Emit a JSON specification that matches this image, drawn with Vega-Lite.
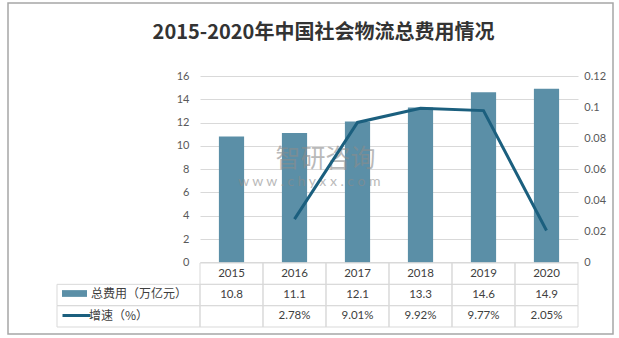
{
  "$schema": "https://vega.github.io/schema/vega-lite/v6.json",
  "width": 605,
  "height": 331,
  "autosize": {"type": "none"},
  "padding": {"left": 8, "top": 3, "right": 6, "bottom": 4},
  "background": "white",
  "title": {
    "text": "2015-2020年中国社会物流总费用情况",
    "font": "Noto Sans CJK SC",
    "fontSize": 20,
    "fontWeight": "bold",
    "color": "#333333",
    "anchor": "middle",
    "offset": -40,
    "dx": 13
  },
  "config": {
    "view": {"stroke": "#a6a6a6", "strokeWidth": 1.5},
    "font": "Lato"
  },
  "data": {
    "values": [
      {"年份": "2015", "总费用（万亿元）": 10.8, "增速": null, "增速（%）": ""},
      {"年份": "2016", "总费用（万亿元）": 11.1, "增速": 0.0278, "增速（%）": "2.78%"},
      {"年份": "2017", "总费用（万亿元）": 12.1, "增速": 0.0901, "增速（%）": "9.01%"},
      {"年份": "2018", "总费用（万亿元）": 13.3, "增速": 0.0992, "增速（%）": "9.92%"},
      {"年份": "2019", "总费用（万亿元）": 14.6, "增速": 0.0977, "增速（%）": "9.77%"},
      {"年份": "2020", "总费用（万亿元）": 14.9, "增速": 0.0205, "增速（%）": "2.05%"}
    ]
  },
  "resolve": {"scale": {"x": "independent", "y": "independent"}},
  "layer": [
    {
      "resolve": {"scale": {"y": "independent"}},
      "encoding": {
        "x": {
          "field": "年份",
          "type": "ordinal",
          "scale": {"range": [192, 570], "paddingInner": 0.6, "paddingOuter": 0.3},
          "axis": null
        }
      },
      "layer": [
        {
          "mark": {"type": "bar"},
          "encoding": {
            "y": {
              "field": "总费用（万亿元）",
              "type": "quantitative",
              "scale": {"domain": [0, 16], "range": [259.3, 73], "nice": false, "zero": true},
              "axis": {
                "orient": "left",
                "offset": -192,
                "values": [0, 2, 4, 6, 8, 10, 12, 14, 16],
                "domain": false,
                "ticks": false,
                "labelPadding": 11,
                "labelFont": "Lato",
                "labelFontSize": 11,
                "labelColor": "#595959",
                "grid": true,
                "gridColor": "#d9d9d9",
                "gridWidth": 1,
                "title": null
              }
            },
            "fill": {
              "datum": "总费用（万亿元）",
              "scale": {"range": ["#5b8fa7"]},
              "legend": {
                "orient": "none",
                "legendX": 54,
                "legendY": 278,
                "title": null,
                "padding": 0,
                "symbolType": "M-1,-0.27H1V0.27H-1Z",
                "symbolSize": 625,
                "symbolStrokeWidth": 0,
                "labelOffset": 4,
                "labelFont": "Noto Sans CJK SC",
                "labelFontSize": 12,
                "labelColor": "#404040"
              }
            }
          }
        },
        {
          "data": {"values": [{"水印": "智研咨询"}]},
          "mark": {"type": "text", "font": "Noto Sans CJK SC", "fontSize": 25, "color": "#8c8c8c", "opacity": 0.6, "dx": -32, "baseline": "middle"},
          "encoding": {
            "x": {"datum": "2017", "type": "ordinal"},
            "y": {"datum": 8.9, "type": "quantitative", "scale": {"domain": [0, 16], "range": [259.3, 73]}, "axis": null},
            "text": {"field": "水印"}
          }
        },
        {
          "data": {"values": [{"水印": "w w w . c h y x x . c o m"}]},
          "mark": {"type": "text", "font": "Lato", "fontSize": 14, "color": "#8c8c8c", "opacity": 0.6, "dx": -48, "baseline": "middle"},
          "encoding": {
            "x": {"datum": "2017", "type": "ordinal"},
            "y": {"datum": 6.9, "type": "quantitative", "scale": {"domain": [0, 16], "range": [259.3, 73]}, "axis": null},
            "text": {"field": "水印"}
          }
        },
        {
          "mark": {"type": "line", "strokeWidth": 3},
          "encoding": {
            "y": {
              "field": "增速",
              "type": "quantitative",
              "scale": {"domain": [0, 0.12], "range": [259.3, 73], "nice": false},
              "axis": {
                "orient": "right",
                "offset": -34.7,
                "values": [0, 0.02, 0.04, 0.06, 0.08, 0.1, 0.12],
                "format": ".2~f",
                "domain": false,
                "ticks": false,
                "grid": false,
                "labelPadding": 5.5,
                "labelFont": "Lato",
                "labelFontSize": 11,
                "labelColor": "#595959",
                "title": null
              }
            },
            "stroke": {
              "datum": "增速（%）",
              "scale": {"range": ["#1b5f7e"]},
              "legend": {
                "orient": "none",
                "legendX": 53,
                "legendY": 297,
                "title": null,
                "padding": 0,
                "symbolType": "stroke",
                "symbolSize": 784,
                "symbolStrokeWidth": 3,
                "labelOffset": -3,
                "labelFont": "Noto Sans CJK SC",
                "labelFontSize": 12,
                "labelColor": "#404040"
              }
            }
          }
        }
      ]
    },
    {
      "transform": [{"fold": ["年份", "总费用（万亿元）", "增速（%）"], "as": ["行", "值"]}],
      "resolve": {"scale": {"x": "independent"}},
      "encoding": {
        "y": {
          "field": "行",
          "type": "nominal",
          "scale": {"domain": ["年份", "总费用（万亿元）", "增速（%）"], "range": [260, 324], "paddingInner": 0, "paddingOuter": 0},
          "axis": null
        }
      },
      "layer": [
        {
          "encoding": {
            "x": {"field": "年份", "type": "ordinal", "scale": {"range": [192, 570], "paddingInner": 0, "paddingOuter": 0}, "axis": null}
          },
          "layer": [
            {"mark": {"type": "rect", "filled": false, "stroke": "#d9d9d9", "strokeWidth": 1}},
            {
              "mark": {"type": "text", "font": "Lato", "fontSize": 11.5, "color": "#404040", "baseline": "middle"},
              "encoding": {"text": {"field": "值", "type": "nominal"}}
            }
          ]
        },
        {
          "transform": [{"filter": "datum['年份'] == '2015' && datum['行'] != '年份'"}],
          "mark": {"type": "rect", "filled": false, "stroke": "#d9d9d9", "strokeWidth": 1},
          "encoding": {
            "x": {"datum": "表头", "type": "nominal", "scale": {"range": [49, 192], "paddingInner": 0, "paddingOuter": 0}, "axis": null}
          }
        }
      ]
    }
  ]
}
